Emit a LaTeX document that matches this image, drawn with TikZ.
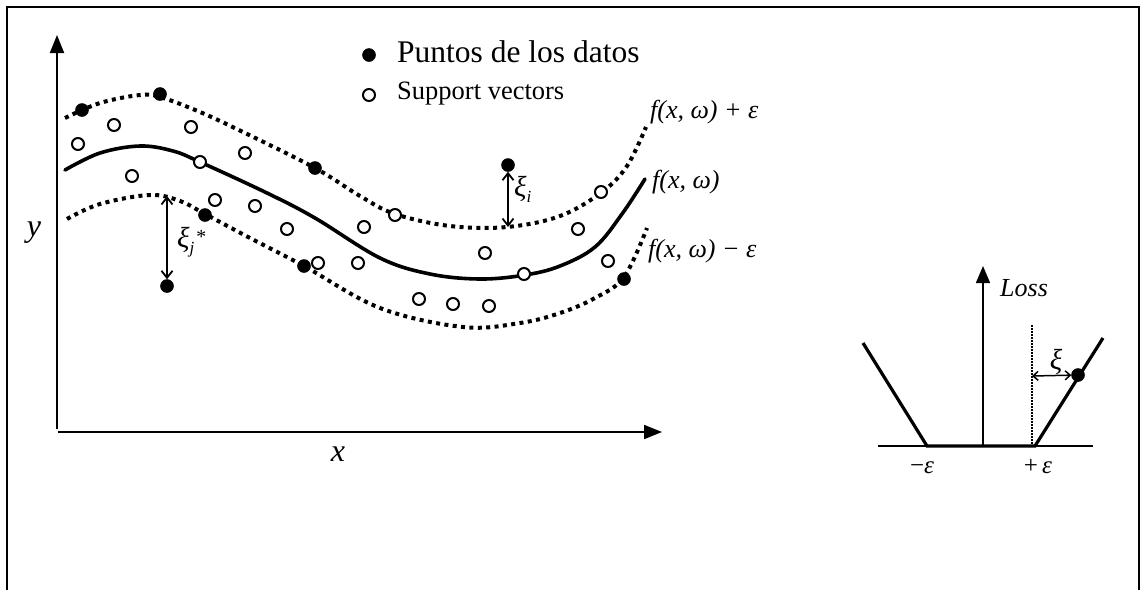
\documentclass[tikz,border=0pt]{standalone}
\usepackage{fontspec}
\setmainfont{Liberation Serif}
\usetikzlibrary{arrows.meta}
\begin{document}
\begin{tikzpicture}[x=1pt,y=-1pt,
  fdot/.style={circle,fill=black,draw=black,line width=0.5pt,inner sep=0pt,minimum size=13pt},
  odot/.style={circle,fill=white,draw=black,line width=2pt,inner sep=0pt,minimum size=12pt},
  axis/.style={line width=2pt,-{Triangle[length=18pt,width=14pt]}},
  solidcurve/.style={line width=3.6pt,line cap=round},
  dotcurve/.style={line width=4pt,dash pattern=on 4pt off 4.4pt},
  gap/.style={line width=1.8pt,{Straight Barb[length=7pt,width=11pt]}-{Straight Barb[length=7pt,width=11pt]}},
  lbl/.style={inner sep=0pt,font=\fontsize{26}{30}\selectfont\itshape},
  greek/.style={inner sep=0pt,font=\fontsize{29}{32}\selectfont\itshape}
]
\useasboundingbox (0,0) rectangle (1141,590);
% frame (no bottom edge)
\draw[line width=2pt] (7,590) -- (7,7) -- (1139,7) -- (1139,590);

% main axes
\coordinate (O1) at (57,429);
\coordinate (Ytip) at (57,35);
\coordinate (O2) at (58,432);
\coordinate (Xtip) at (662,432);
\draw[axis] (O1) -- (Ytip);
\draw[axis] (O2) -- (Xtip);
\node[inner sep=0pt,anchor=base,font=\fontsize{32}{34}\selectfont\itshape] (ylab) at (34,236) {y};
\node[inner sep=0pt,anchor=base,font=\fontsize{32}{34}\selectfont\itshape] (xlab) at (338,461) {x};

% curves
\draw[dotcurve] plot[smooth,tension=0.6] coordinates {(65,118) (100,103) (140,95) (160,97) (200,112) (245,133) (315,168) (360,196) (395,214) (450,226) (507,227) (560,216) (602,192) (627,166) (646,127)};
\draw[solidcurve] plot[smooth,tension=0.6] coordinates {(65,170) (100,153) (140,146) (173,151) (200,162) (267,193) (315,218) (380,258) (430,274) (480,279) (525,275) (560,266) (595,247) (622,214) (645,179)};
\draw[dotcurve] plot[smooth,tension=0.6] coordinates {(67,219) (100,204) (150,195) (180,201) (205,214) (250,238) (304,266) (380,308) (463,327) (520,323) (560,313) (595,298) (624,277) (647,228)};

% open points (support vectors)
\foreach \p [count=\i] in {(78,144),(114,125),(191,127),(132,176),(200,162),(245,153),(215,200),(255,206),(287,229),(364,227),(395,215),(318,263),(358,263),(485,253),(524,274),(578,229),(601,192),(608,261),(419,299),(453,304),(489,306)}
  \node[odot] (sv\i) at \p {};

% filled points (data)
\node[fdot] (p1) at (82,110) {};
\node[fdot] (p2) at (160,94) {};
\node[fdot] (p3) at (315,168) {};
\node[fdot] (pi) at (508,165) {};
\node[fdot] (p5) at (205,215) {};
\node[fdot] (p6) at (304,266) {};
\node[fdot] (pj) at (167,286) {};
\node[fdot] (p8) at (624,279) {};

% slack arrows
\coordinate (ci) at (508,227);
\coordinate (cj) at (167,196);
\draw[gap] (pi) -- (ci);
\draw[gap] (cj) -- (pj);
\node[greek,anchor=base west] (xii) at (514,196) {ξ\raisebox{-0.22em}{\fontsize{17}{18}\selectfont\itshape i}};
\node[greek,anchor=base west] (xij) at (177,247) {ξ\raisebox{-0.22em}{\fontsize{17}{18}\selectfont\itshape j}\hspace{1pt}\raisebox{0.12em}{\fontsize{20}{20}\selectfont *}};

% legend
\node[fdot] (lf) at (369,55) {};
\node[odot] (lo) at (369,95) {};
\node[inner sep=0pt,anchor=base west,font=\fontsize{31.5}{34}\selectfont] (lt1) at (397,62) {Puntos de los datos};
\node[inner sep=0pt,anchor=base west,font=\fontsize{26.5}{30}\selectfont] (lt2) at (397,99) {Support vectors};

% curve labels
\node[lbl,anchor=base west] (fu) at (650,118) {f(x, ω) + ε};
\node[lbl,anchor=base west] (fm) at (652,188) {f(x, ω)};
\node[lbl,anchor=base west] (fl) at (648,257) {f(x, ω) − ε};

% loss function
\coordinate (La) at (878,446);
\coordinate (Lb) at (1093,446);
\coordinate (L0) at (983,446);
\coordinate (Ltip) at (983,266);
\draw[line width=1.5pt] (La) -- (Lb);
\draw[line width=1.5pt,-{Triangle[length=17pt,width=14pt]}] (L0) -- (Ltip);
\node[lbl,anchor=base west] (losslab) at (1000,296) {Loss};
\coordinate (Lt1) at (863,343);
\coordinate (Lm) at (927,446);
\coordinate (Lp) at (1035,446);
\coordinate (Lt2) at (1103,338);
\draw[line width=3.2pt,line join=miter] (Lt1) -- (Lm) -- (Lp) -- (Lt2);
\coordinate (Dtop) at (1032,325);
\coordinate (Dbot) at (1032,446);
\draw[line width=1.2pt,dash pattern=on 1.5pt off 1.5pt] (Dtop) -- (Dbot);
\node[fdot] (ld) at (1078,375) {};
\coordinate (Dxi) at (1032,376);
\draw[line width=1.5pt,{Straight Barb[length=5pt,width=9pt]}-{Straight Barb[length=5pt,width=9pt]}] (Dxi) -- (ld);
\node[greek,anchor=base] (xil) at (1056,369) {ξ};
\node[inner sep=0pt,anchor=base,font=\fontsize{25}{28}\selectfont] (me) at (922,473) {−\textit{ε}};
\node[inner sep=0pt,anchor=base,font=\fontsize{25}{28}\selectfont] (pe) at (1038,473) {+\,\textit{ε}};
\end{tikzpicture}
\end{document}
